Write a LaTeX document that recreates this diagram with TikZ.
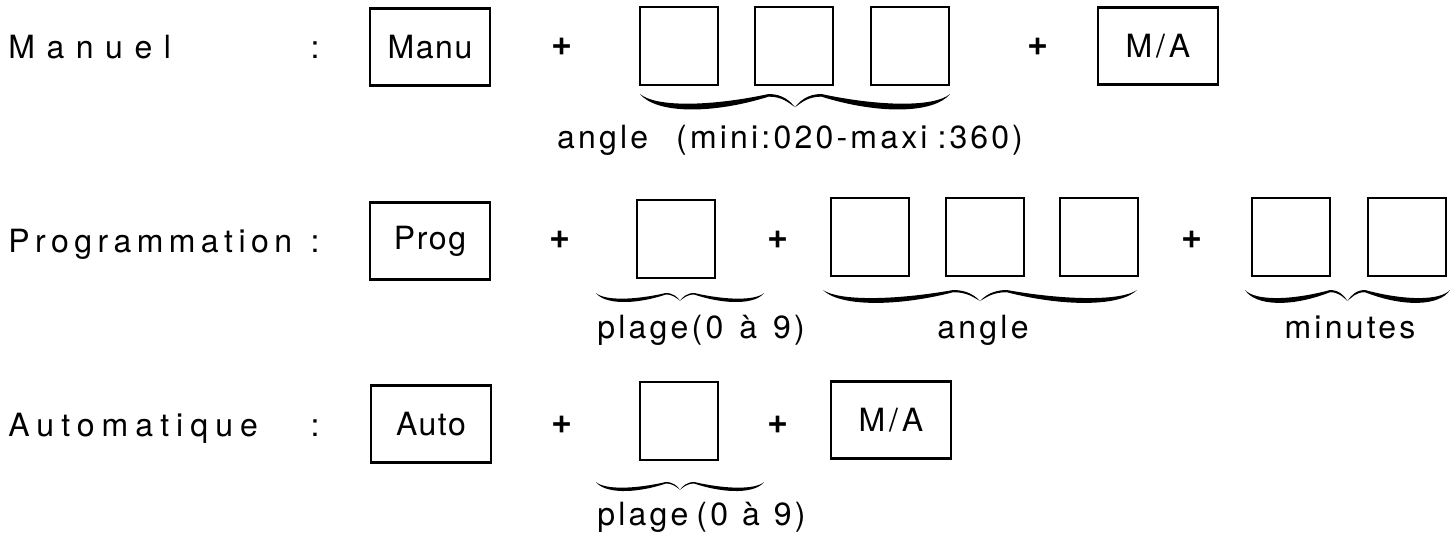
\documentclass[tikz,border=0pt]{standalone}
\usepackage{fontspec}
\setmainfont{TeX Gyre Heros}
\newcommand\wbrace[4]{%
  \pgfmathsetmacro\bh{(#2-#1)/2}%
  \pgfmathsetmacro\bm{(#1+#2)/2}%
  \foreach \s in {1,-1}{%
    \fill[shift={(\bm,#3)}, xscale=\s, yscale=#4]
      (-\bh,0) .. controls ({-0.9*\bh},11) and ({-0.55*\bh},10.5) .. ({-0.17*\bh},0)
      .. controls ({-0.08*\bh},0) and ({-0.03*\bh},6) .. (0,11)
      .. controls ({-0.04*\bh},7.5) and ({-0.08*\bh},2.2) .. ({-0.17*\bh},2.2)
      .. controls ({-0.55*\bh},17.5) and ({-0.9*\bh},16) .. cycle;
  }%
}
\begin{document}
\begin{tikzpicture}[x=0.5pt,y=-0.5pt,
  every node/.style={font=\fontsize{16}{19}\selectfont\addfontfeature{LetterSpace=10}},
  keybox/.style={draw, line width=1.2pt, minimum width=39pt, minimum height=39pt, inner sep=0pt},
  widebox/.style={draw, line width=1.2pt, minimum width=60pt, minimum height=38.5pt, inner sep=0pt},
  plus/.style={inner sep=0pt, font=\fontsize{18}{20}\selectfont\bfseries},
  rowlabel/.style={anchor=base west, inner sep=0pt},
  colon/.style={anchor=base, inner sep=0pt},
  sublabel/.style={anchor=base, inner sep=0pt}]
\useasboundingbox (0,0) rectangle (1456,538);

% Row 1 : Manuel
\node[rowlabel] (lman) at (8,58) {\addfontfeature{LetterSpace=36}Manuel};
\node[colon] (c1) at (315,58) {:};
\node[widebox] (manu) at (430,47) {\addfontfeature{LetterSpace=5}Manu};
\node[plus] (p11) at (562,47) {+};
\node[keybox] (a1) at (679,46) {};
\node[keybox] (a2) at (794,46) {};
\node[keybox] (a3) at (910,46) {};
\node[plus] (p12) at (1038,47) {+};
\node[widebox] (ma1) at (1158,46) {\addfontfeature{LetterSpace=12}M/A};
\wbrace{640}{950}{94}{1.2}
\node[sublabel] (ang1) at (790,148) {angle\hspace{14pt}(mini:020-maxi\hspace{5pt}:3\hspace{1.5pt}6\hspace{1.5pt}0)};

% Row 2 : Programmation
\node[rowlabel] (lprog) at (8,252) {\addfontfeature{LetterSpace=17}Programmation};
\node[colon] (c2) at (315,252) {:};
\node[widebox] (prog) at (430,241) {\addfontfeature{LetterSpace=5}Prog};
\node[plus] (p21) at (560,240) {+};
\node[keybox] (pl2) at (676,239) {};
\node[plus] (p22) at (778,240) {+};
\node[keybox] (b1) at (870,237) {};
\node[keybox] (b2) at (985,237) {};
\node[keybox] (b3) at (1099,237) {};
\node[plus] (p23) at (1192,240) {+};
\node[keybox] (m1) at (1291,237) {};
\node[keybox] (m2) at (1407,237) {};
\wbrace{596}{764}{293}{0.7}
\wbrace{823}{1137}{290}{1.0}
\wbrace{1245}{1450}{290}{1.0}
\node[anchor=base west, inner sep=0pt] (plg2) at (597,338) {plage(0\hspace{8pt}à\hspace{8pt}9)};
\node[sublabel] (ang2) at (983,338) {angle};
\node[sublabel] (min2) at (1350,338) {minutes};

% Row 3 : Automatique
\node[rowlabel] (lauto) at (8,436) {\addfontfeature{LetterSpace=22}Automatique};
\node[colon] (c3) at (315,436) {:};
\node[widebox] (auto) at (431,424) {\addfontfeature{LetterSpace=5}Auto};
\node[plus] (p31) at (562,425) {+};
\node[keybox] (pl3) at (679,421) {};
\node[plus] (p32) at (778,425) {+};
\node[widebox] (ma3) at (891,420) {\addfontfeature{LetterSpace=12}M/A};
\wbrace{596}{764}{482}{0.7}
\node[anchor=base west, inner sep=0pt] (plg3) at (597,525) {plage\hspace{4pt}(0\hspace{7pt}à\hspace{7pt}9)};
\end{tikzpicture}
\end{document}
